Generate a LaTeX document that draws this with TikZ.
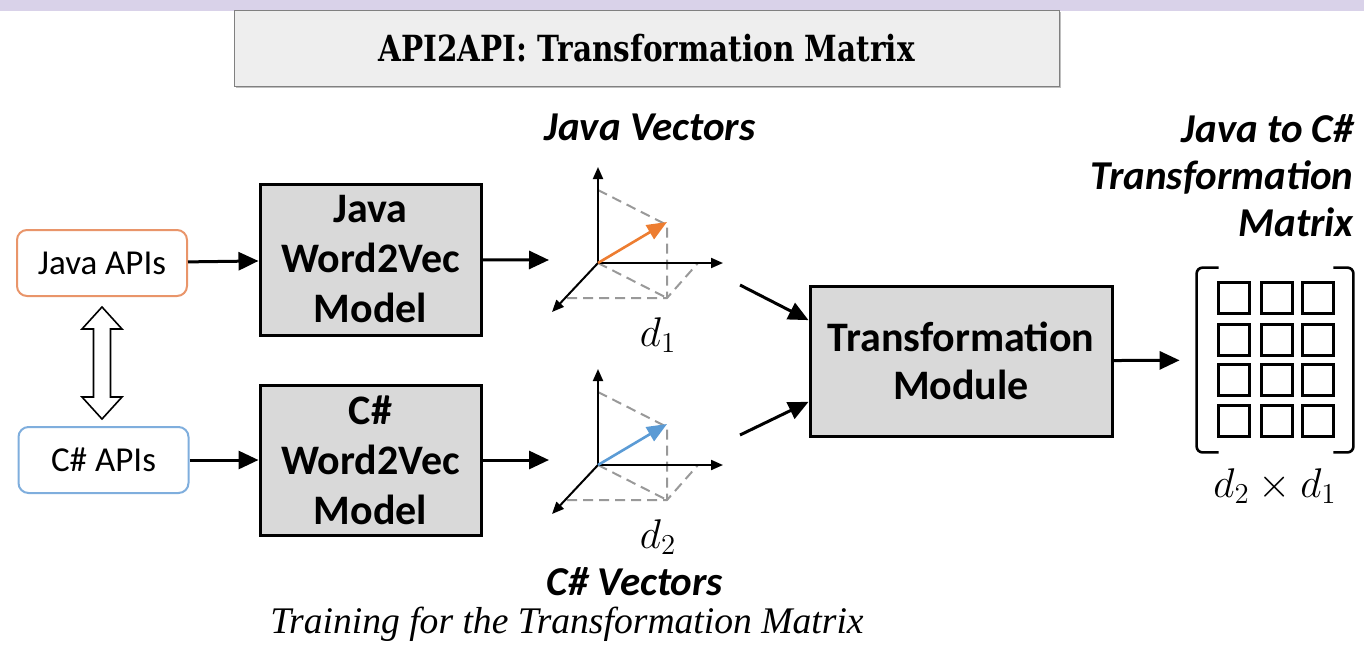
\documentclass[tikz,border=0pt]{standalone}
\usepackage{fontspec}
\setmainfont{Carlito}
\newfontfamily\titlefont[FakeStretch=0.82]{DejaVu Serif}
\newfontfamily\capfont{Liberation Serif}
\usepackage{tikz}
\usetikzlibrary{
  arrows.meta, positioning, calc, shadows
}
\definecolor{band}{HTML}{D9D2E9}
\definecolor{titlegray}{HTML}{EEEEEE}
\definecolor{boxgray}{HTML}{D9D9D9}
\definecolor{javaline}{HTML}{E9956A}
\definecolor{csline}{HTML}{7FAEDD}
\definecolor{javavec}{HTML}{ED7D31}
\definecolor{csvec}{HTML}{5B9BD5}
\definecolor{projgray}{HTML}{999999}

\begin{document}
\begin{tikzpicture}
      [x=0.5pt, y=-0.5pt,
       titlebox/.style={rectangle,draw=gray,fill=titlegray,minimum width=412.5pt,minimum height=38pt,
         drop shadow={shadow xshift=1pt,shadow yshift=-1pt,fill=gray},
         font=\titlefont\bfseries\fontsize{18}{20}\selectfont},
       api/.style={rectangle,rounded corners=5pt,line width=1pt,fill=white,
         minimum width=85pt,minimum height=33pt,font=\fontsize{17.5}{20}\selectfont},
       model/.style={rectangle,draw=black,line width=1.5pt,fill=boxgray,align=center,
         font=\bfseries\fontsize{21}{25}\selectfont},
       vlabel/.style={align=right,inner sep=1pt,font=\bfseries\itshape\fontsize{20.5}{23.5}\selectfont},
       flow/.style={-{Triangle[length=10pt,width=9pt]},line width=1.5pt},
       axis/.style={-{Triangle[length=6pt,width=5pt]},line width=1pt},
       proj/.style={draw=projgray,line width=1pt,dash pattern=on 5pt off 3pt},
       cell/.style={rectangle,draw,line width=1.4pt,minimum size=15.5pt,inner sep=0pt},
       hollow/.style={draw,fill=white,line width=0.8pt,line join=miter}]
      \useasboundingbox (0,0) rectangle (1364,649);
      \fill[band] (0,0) rectangle (1364,11);

      \node (title) at (646.5,48) [titlebox] {API2API: Transformation Matrix};

      \node (japi) at (102,263) [api,draw=javaline] {Java APIs};
      \node (capi) at (103.5,460) [api,draw=csline] {C\# APIs};

      \node (jw2v) at (370.5,259.5) [model,minimum width=110.5pt,minimum height=75.5pt] {Java\\Word2Vec\\Model};
      \node (cw2v) at (370.5,460) [model,minimum width=110.5pt,minimum height=75pt] {C\#\\Word2Vec\\Model};

      \node (tm) at (961,361) [model,minimum width=151pt,minimum height=75pt,font=\bfseries\fontsize{21}{24}\selectfont] {Transformation\\Module};

      \node (jvlabel) at (650,127) [vlabel] {Java Vectors};
      \node (cvlabel) at (635,582) [vlabel] {C\# Vectors};
      \node (mlabel) at (1356,112) [vlabel,anchor=north east] {Java to C\#\\Transformation\\Matrix};

      % java vectors
      \coordinate (jo) at (598,263);
      \draw[proj] ($(jo)+(0,-73)$) -- ++(69,35) -- ++(0,73);
      \draw[proj] (jo) -- ++(69,35);
      \draw[proj] ($(jo)+(-31,35)$) -- ++(100,0) -- ++(31,-35);
      \draw[axis] (jo) -- ++(0,-96);
      \draw[axis] (jo) -- ++(125,0);
      \draw[axis] (jo) -- ++(-46,49);
      \draw[-{Triangle[length=10pt,width=8pt]},line width=1.3pt,javavec] (jo) -- ++(69,-41);
      \node (d1) at (658,346) [anchor=base,font=\fontsize{20}{24}\selectfont] {$d_1$};

      % c# vectors
      \coordinate (co) at (598,465);
      \draw[proj] ($(co)+(0,-73)$) -- ++(69,35) -- ++(0,73);
      \draw[proj] (co) -- ++(69,35);
      \draw[proj] ($(co)+(-31,35)$) -- ++(100,0) -- ++(31,-35);
      \draw[axis] (co) -- ++(0,-96);
      \draw[axis] (co) -- ++(125,0);
      \draw[axis] (co) -- ++(-46,49);
      \draw[-{Triangle[length=10pt,width=8pt]},line width=1.3pt,csvec] (co) -- ++(69,-41);
      \node (d2) at (658,548) [anchor=base,font=\fontsize{20}{24}\selectfont] {$d_2$};

      \coordinate (jvin) at (549,260);
      \coordinate (cvin) at (549,460);
      \coordinate (jvout) at (740,285);
      \coordinate (cvout) at (740,435);

      % matrix
      \node (mat) at (1275,360) [minimum width=78pt,minimum height=92pt] {};
      \draw[line width=1.3pt,rounded corners=3pt] ($(mat.north west)+(22,0)$) -- (mat.north west) -- (mat.south west) -- ++(22,0);
      \draw[line width=1.3pt,rounded corners=3pt] ($(mat.north east)+(-20,0)$) -- (mat.north east) -- (mat.south east) -- ++(-20,0);
      \node (m11) at (1234,298) [cell] {};
      \node (m12) at (1277,298) [cell] {};
      \node (m13) at (1318,298) [cell] {};
      \node (m21) at (1234,340) [cell] {};
      \node (m22) at (1277,340) [cell] {};
      \node (m23) at (1318,340) [cell] {};
      \node (m31) at (1234,380) [cell] {};
      \node (m32) at (1277,380) [cell] {};
      \node (m33) at (1318,380) [cell] {};
      \node (m41) at (1234,421) [cell] {};
      \node (m42) at (1277,421) [cell] {};
      \node (m43) at (1318,421) [cell] {};
      \node (dd) at (1275,497) [anchor=base,font=\fontsize{20}{24}\selectfont] {$d_2\times d_1$};

      \node (caption) at (567,633) [anchor=base,inner sep=1pt,font=\capfont\itshape\fontsize{18.8}{20}\selectfont] {Training for the Transformation Matrix};

      \draw[hollow] ($(japi.south)+(0,10)$) -- ++(20,22) -- ++(-11.5,0) -- ++(0,68) -- ++(11.5,0)
        -- ++(-20,22) -- ++(-20,-22) -- ++(11.5,0) -- ++(0,-68) -- ++(-11.5,0) -- cycle;

      \draw[flow] (japi) -- (jw2v);
      \draw[flow] (capi.east) -- (cw2v.west);
      \draw[flow] (jw2v) -- (jvin);
      \draw[flow] (cw2v) -- (cvin);
      \draw[flow] (jvout) -- (tm.165);
      \draw[flow] (cvout) -- (tm.195);
      \draw[flow,shorten >=8.5pt] (tm) -- (mat);
      \end{tikzpicture}
\end{document}
